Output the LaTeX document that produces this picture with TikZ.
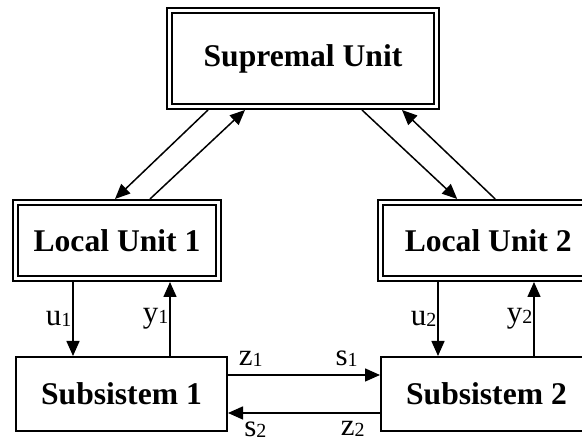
\documentclass[tikz,border=0pt]{standalone}
\usepackage{fontspec}
\setmainfont{Liberation Serif}
\usetikzlibrary{arrows.meta}
\tikzset{
  unit/.style={draw, double, line width=2.4pt, double distance=2.6pt,
    inner sep=0pt, outer sep=3.7pt, minimum width=202.6pt, minimum height=75.6pt,
    font=\fontsize{31.6}{36}\selectfont\bfseries},
  plant/.style={draw, line width=2pt, inner sep=0pt,
    minimum width=211pt, minimum height=74pt,
    font=\fontsize{31.6}{36}\selectfont\bfseries},
  sig/.style={line width=1.5pt, -{Triangle[length=15pt,width=13pt]}},
  lab/.style={font=\fontsize{31}{32}\selectfont, inner sep=1pt}
}
\newcommand\idx[1]{\raisebox{-1pt}{\fontsize{20}{20}\selectfont #1}}
\begin{document}
\begin{tikzpicture}[x=1pt,y=1pt]
  \useasboundingbox (0,0) rectangle (582,443);
  \clip (0,0) rectangle (582,443);

  \node [unit, minimum width=266.6pt, minimum height=95.6pt] (sup) at (303,384.5) {Supremal Unit};
  \node [unit] (lu1) at (117,202.5) {Local Unit 1};
  \node [unit, minimum width=215pt] (lu2) at (488.2,202.5) {Local Unit 2};
  \node [plant] (sub1) at (121.5,49) {Subsistem 1};
  \node [plant] (sub2) at (486.5,49) {Subsistem 2};

  % supremal <-> local
  \draw [sig] ([xshift=-95pt]sup.south) -- ([xshift=-2pt]lu1.north);
  \draw [sig] ([xshift=33pt]lu1.north) -- ([xshift=-58pt]sup.south);
  \draw [sig] ([xshift=59pt]sup.south) -- ([xshift=-31pt]lu2.north);
  \draw [sig] ([xshift=7pt]lu2.north) -- ([xshift=99pt]sup.south);

  % local <-> subsystems
  \draw [sig] ([xshift=-48.5pt]sub1.north |- lu1.south) -- ([xshift=-48.5pt]sub1.north)
    node [lab, midway, left] (u1) {u\idx{1}};
  \draw [sig] ([xshift=48.5pt]sub1.north) -- ([xshift=48.5pt]sub1.north |- lu1.south)
    node [lab, midway, left] (y1) {y\idx{1}};
  \draw [sig] ([xshift=-48.5pt]sub2.north |- lu2.south) -- ([xshift=-48.5pt]sub2.north)
    node [lab, midway, left] (u2) {u\idx{2}};
  \draw [sig] ([xshift=47.5pt]sub2.north) -- ([xshift=47.5pt]sub2.north |- lu2.south)
    node [lab, midway, left] (y2) {y\idx{2}};

  % interconnection
  \draw [sig] ([yshift=19pt]sub1.east) -- ([yshift=19pt]sub1.east -| sub2.west)
    node [lab, pos=.15, above=7pt] (z1) {z\idx{1}}
    node [lab, pos=.78, above=7pt] (s1) {s\idx{1}};
  \draw [sig] ([yshift=-19pt]sub1.east -| sub2.west) -- ([yshift=-19pt]sub1.east)
    node [lab, pos=.82, below=7pt] (s2) {s\idx{2}}
    node [lab, pos=.18, below=7pt] (z2) {z\idx{2}};
\end{tikzpicture}
\end{document}
